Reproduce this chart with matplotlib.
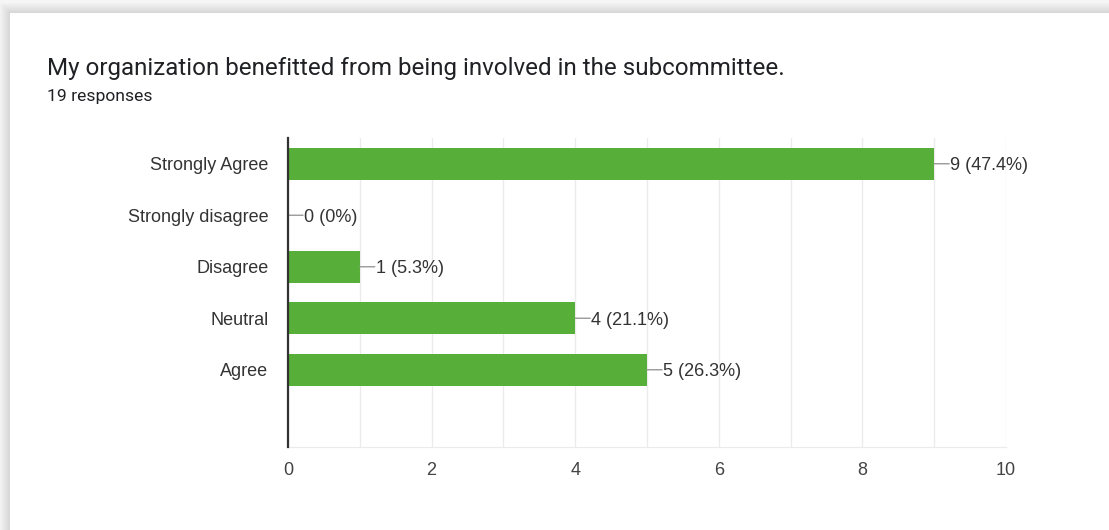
#!/usr/bin/env python3
'''Survey question: response counts as a horizontal bar chart'''

import matplotlib.pyplot as plt
from matplotlib.patches import Rectangle

categories = ['Strongly Agree', 'Strongly disagree', 'Disagree', 'Neutral', 'Agree', '']
counts = [9, 0, 1, 4, 5, None]
total = 19
x_ticks = [0, 2, 4, 6, 8, 10]

TITLE = 'My organization benefitted from being involved in the subcommittee.'
SUBTITLE = f'{total} responses'

BAR = '#57ae38'

fig = plt.figure(figsize=(11.09, 5.30), dpi=100)
fig.patch.set_facecolor('#f5f5f5')

# card with a soft shadow around it
W, H = 1109, 530
left, top = 10, 13
for i in range(10):
    off = 10 - i
    fig.patches.append(Rectangle(((left - off) / W, 0), (W - left + off) / W,
                                 (H - top + off) / H, transform=fig.transFigure,
                                 facecolor='black', alpha=0.013, edgecolor='none',
                                 zorder=0))
fig.patches.append(Rectangle((left / W, 0), (W - left) / W, (H - top) / H,
                             transform=fig.transFigure, facecolor='white',
                             edgecolor='none', zorder=1))

fig.text(47 / W, 1 - 68 / H, TITLE, fontsize=17.4, family=['Roboto', 'DejaVu Sans'],
         color='#202124', va='center', ha='left')
fig.text(47 / W, 1 - 97 / H, SUBTITLE, fontsize=12.6, family=['Roboto', 'DejaVu Sans'],
         color='#202124', va='center', ha='left')

ax = fig.add_axes([288 / W, 1 - 447 / H, 718 / W, 309 / H])
ax.set_zorder(2)
ax.set_facecolor('none')

ypos = list(range(len(categories)))
vals = [c if c is not None else 0 for c in counts]
ax.barh(ypos, vals, height=0.62, color=BAR, zorder=3)

for y, c in zip(ypos, counts):
    if c is None:
        continue
    # short horizontal leader from the bar end, then the value label
    ax.annotate('', xy=(c, y), xytext=(15, 0), textcoords='offset pixels',
                arrowprops=dict(arrowstyle='-', color='#999999', lw=1,
                                shrinkA=0, shrinkB=0), zorder=4)
    ax.annotate(f'{c} ({round(c / total * 100, 1):g}%)', xy=(c, y),
                xytext=(16, 0), textcoords='offset pixels',
                ha='left', va='center_baseline', fontsize=13,
                family=['Liberation Sans', 'DejaVu Sans'], color='#333333',
                zorder=4)

ax.set_xlim(0, 10)
ax.set_ylim(len(categories) - 0.5, -0.5)
ax.set_xticks(x_ticks)
ax.set_xticks(range(0, 11), minor=True)
ax.set_yticks(ypos)
ax.set_yticklabels(categories, va='center_baseline')
ax.grid(axis='x', which='both', color='#ebebeb', lw=1, zorder=0)
ax.tick_params(axis='y', length=0, pad=14, labelsize=13, labelcolor='#333333')
ax.tick_params(axis='x', which='both', length=0, pad=11, labelsize=13,
               labelcolor='#444444')
for lab in ax.get_xticklabels() + ax.get_yticklabels():
    lab.set_family(['Liberation Sans', 'DejaVu Sans'])

for side in ['top', 'right']:
    ax.spines[side].set_visible(False)
ax.spines['bottom'].set_color('#ebebeb')
ax.spines['left'].set_color('#333333')
ax.spines['left'].set_linewidth(1.6)
ax.spines['left'].set_zorder(5)

plt.savefig('out.png', dpi=100, facecolor=fig.get_facecolor())
